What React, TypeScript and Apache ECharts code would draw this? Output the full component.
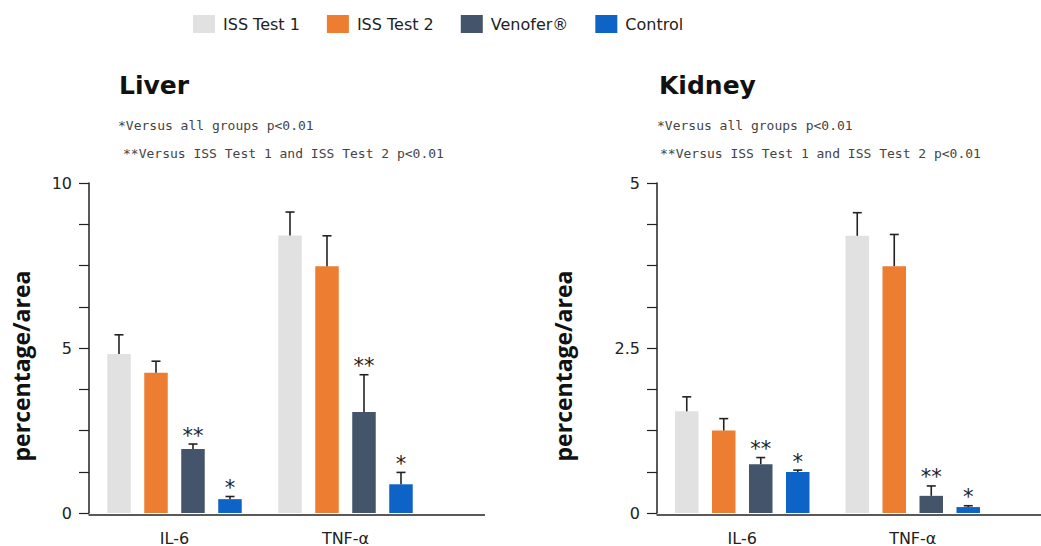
import React, { useEffect, useRef } from "react";
import * as echarts from "echarts";

const categories = ["IL-6", "TNF-α"];
const groups = ["ISS Test 1", "ISS Test 2", "Venofer®", "Control"];
const colors = ["#e1e1e1", "#ed7d31", "#44546a", "#0d63c6"];
const marks = ["", "", "**", "*"];

// Liver means and upper error (SE)
const liverISS1 = [4.82, 8.41];
const liverISS2 = [4.25, 7.48];
const liverVenofer = [1.94, 3.06];
const liverControl = [0.42, 0.87];
const liverErrISS1 = [0.58, 0.71];
const liverErrISS2 = [0.35, 0.92];
const liverErrVenofer = [0.15, 1.13];
const liverErrControl = [0.08, 0.36];

// Kidney means and upper error (SE)
const kidneyISS1 = [1.54, 4.2];
const kidneyISS2 = [1.25, 3.74];
const kidneyVenofer = [0.74, 0.26];
const kidneyControl = [0.62, 0.09];
const kidneyErrISS1 = [0.22, 0.35];
const kidneyErrISS2 = [0.18, 0.48];
const kidneyErrVenofer = [0.1, 0.15];
const kidneyErrControl = [0.03, 0.02];

const liverTicks = [0, 5, 10];
const kidneyTicks = [0, 2.5, 5];

const BAR_W = 23.5;
const BAR_GAP = 13.5;
const AX = "#222";

export default function App() {
  const ref = useRef<HTMLDivElement>(null);
  useEffect(() => {
    document.body.style.margin = "0";
    const chart = echarts.init(ref.current!, null, { renderer: "svg" });
    const liver = [liverISS1, liverISS2, liverVenofer, liverControl];
    const liverErr = [liverErrISS1, liverErrISS2, liverErrVenofer, liverErrControl];
    const kidney = [kidneyISS1, kidneyISS2, kidneyVenofer, kidneyControl];
    const kidneyErr = [kidneyErrISS1, kidneyErrISS2, kidneyErrVenofer, kidneyErrControl];

    const barSeries = (vals: number[][], idx: number) =>
      groups.map((g, i) => ({
        type: "bar",
        name: g,
        xAxisIndex: idx,
        yAxisIndex: idx,
        data: vals[i],
        barWidth: BAR_W,
        barGap: ((BAR_GAP / BAR_W) * 100).toFixed(1) + "%",
        itemStyle: { color: colors[i] },
        z: 2,
      }));

    const errSeries = (vals: number[][], errs: number[][], idx: number) => {
      const data: any[] = [];
      vals.forEach((arr, gi) =>
        arr.forEach((v, ci) => data.push([ci, v, errs[gi][ci], gi]))
      );
      return {
        type: "custom",
        xAxisIndex: idx,
        yAxisIndex: idx,
        silent: true,
        z: 3,
        data,
        renderItem: (params: any, api: any) => {
          const ci = api.value(0);
          const v = api.value(1);
          const e = api.value(2);
          const gi = api.value(3);
          const base = api.coord([ci, v]);
          const top = api.coord([ci, v + e]);
          const x = base[0] + (gi - 1.5) * (BAR_W + BAR_GAP);
          const children: any[] = [
            { type: "line", shape: { x1: x, y1: base[1], x2: x, y2: top[1] }, style: { stroke: AX, lineWidth: 1.6 } },
            { type: "line", shape: { x1: x - 4.5, y1: top[1], x2: x + 4.5, y2: top[1] }, style: { stroke: AX, lineWidth: 1.6 } },
          ];
          if (marks[gi]) {
            children.push({
              type: "text",
              x,
              y: top[1] + 2,
              style: {
                text: marks[gi],
                fontFamily: "DejaVu Sans",
                fontSize: 21,
                fill: "#222",
                textAlign: "center",
                textVerticalAlign: "bottom",
              },
            });
          }
          return { type: "group", children };
        },
      };
    };

    const yAxis = (max: number, interval: number, ticks: number[]) => ({
      type: "value",
      min: 0,
      max,
      interval,
      axisLine: { show: true, lineStyle: { color: AX, width: 1.5 } },
      axisTick: { show: true, length: 10, lineStyle: { color: AX, width: 1.2 } },
      splitLine: { show: false },
      axisLabel: {
        margin: 17,
        fontSize: 16,
        color: "#222",
        fontFamily: "DejaVu Sans",
        formatter: (v: number) =>
          ticks.some((t) => Math.abs(t - v) < 1e-6) ? String(v) : "",
      },
    });

    const xAxis = (gi: number) => ({
      type: "category",
      gridIndex: gi,
      data: categories,
      axisLine: { show: false },
      axisTick: { show: false },
      axisLabel: { margin: 17, fontSize: 16, color: "#222", fontFamily: "DejaVu Sans" },
    });

    const titleText = (x: number, text: string) => ({
      type: "text",
      x,
      y: 98,
      style: { text, fontFamily: "DejaVu Sans", fontWeight: "bold", fontSize: 25, fill: "#111", textVerticalAlign: "bottom" },
    });
    const noteText = (x: number, y: number, text: string) => ({
      type: "text",
      x,
      y,
      style: { text, fontFamily: "DejaVu Sans Mono", fontSize: 13, fill: "#444", textVerticalAlign: "middle" },
    });
    const yName = (x: number) => ({
      type: "text",
      x,
      y: 366,
      rotation: Math.PI / 2,
      style: {
        text: "percentage/area",
        fontFamily: "Open Sans",
        fontWeight: "bold",
        fontSize: 23,
        fill: "#111",
        textAlign: "center",
        textVerticalAlign: "middle",
      },
    });
    const baseLine = (x1: number, x2: number) => ({
      type: "line",
      z: 10,
      shape: { x1, y1: 515, x2, y2: 515 },
      style: { stroke: AX, lineWidth: 1.5 },
    });

    chart.setOption({
      animation: false,
      textStyle: { fontFamily: "DejaVu Sans" },
      legend: {
        data: groups,
        left: 193,
        top: 15,
        padding: 0,
        itemWidth: 22,
        itemHeight: 18,
        itemGap: 27,
        icon: "rect",
        textStyle: { fontSize: 16, color: "#222", fontFamily: "DejaVu Sans", padding: [0, 0, 0, 3] },
      },
      grid: [
        { left: 89, top: 183, width: 342, height: 332 },
        { left: 657, top: 183, width: 341, height: 332 },
      ],
      xAxis: [xAxis(0), xAxis(1)],
      yAxis: [
        { ...yAxis(10, 1.25, liverTicks), gridIndex: 0 },
        { ...yAxis(5, 0.625, kidneyTicks), gridIndex: 1 },
      ],
      graphic: [
        titleText(119, "Liver"),
        titleText(659, "Kidney"),
        noteText(118, 125, "*Versus all groups p<0.01"),
        noteText(123, 153, "**Versus ISS Test 1 and ISS Test 2 p<0.01"),
        noteText(657, 125, "*Versus all groups p<0.01"),
        noteText(660, 153, "**Versus ISS Test 1 and ISS Test 2 p<0.01"),
        yName(21),
        yName(563),
        baseLine(88.5, 485),
        baseLine(656.5, 1041),
      ],
      series: [
        ...barSeries(liver, 0),
        ...barSeries(kidney, 1),
        errSeries(liver, liverErr, 0),
        errSeries(kidney, kidneyErr, 1),
      ],
    });
    return () => chart.dispose();
  }, []);
  return <div ref={ref} style={{ width: 1041, height: 546 }} />;
}
